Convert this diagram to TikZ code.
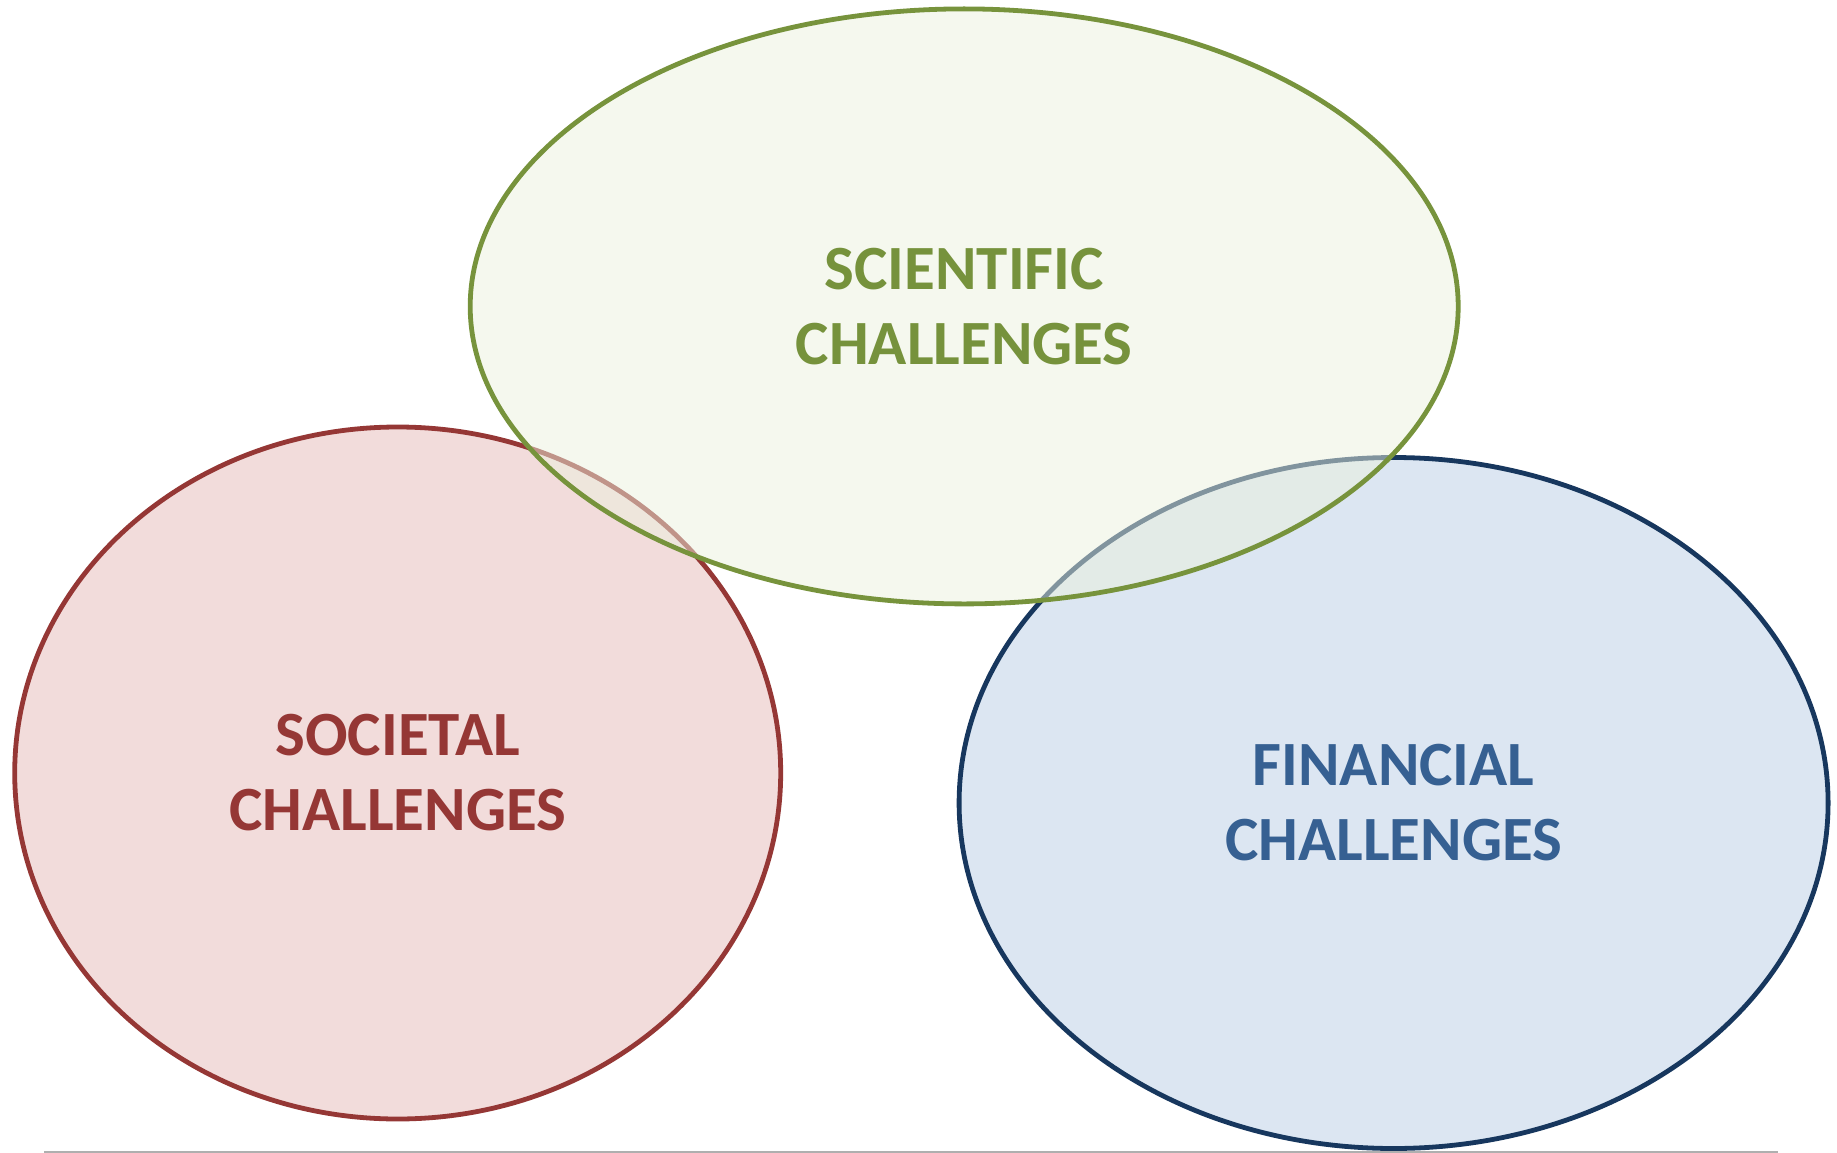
\documentclass[tikz,border=0pt]{standalone}
\usepackage{fontspec}
\setmainfont{Carlito}
\usetikzlibrary{shapes.geometric}
\definecolor{sciFill}{HTML}{EBF1DE}
\definecolor{sciLine}{HTML}{77933C}
\definecolor{sciText}{HTML}{76923C}
\definecolor{socFill}{HTML}{F2DCDB}
\definecolor{socLine}{HTML}{953735}
\definecolor{socText}{HTML}{953735}
\definecolor{finFill}{HTML}{DCE6F2}
\definecolor{finLine}{HTML}{17375E}
\definecolor{finText}{HTML}{366092}
\definecolor{baseGray}{HTML}{AFAFAF}
\begin{document}
\begin{tikzpicture}[x=1pt,y=-1pt,
  blob/.style={ellipse, inner sep=0pt, line width=4.8pt, align=center,
    font=\fontsize{63}{75}\selectfont\bfseries},
]
\useasboundingbox (0,0) rectangle (1837,1153);
\node[blob, draw=socLine, fill=socFill, text=socText,
  minimum width=766pt, minimum height=692pt] (soc) at (397.7,773) {SOCIETAL\\CHALLENGES};
\node[blob, draw=finLine, fill=finFill, text=finText,
  minimum width=869pt, minimum height=691pt] (fin) at (1393.6,803) {FINANCIAL\\CHALLENGES};
\node[blob, draw=sciLine, fill=sciFill, fill opacity=0.5, draw opacity=1, text opacity=1, text=sciText,
  minimum width=988pt, minimum height=595pt] (sci) at (964.2,306.4) {SCIENTIFIC\\CHALLENGES};
\coordinate (bl) at (44,1151.8);
\coordinate (br) at (1778,1151.8);
\draw[baseGray, line width=2pt] (bl) -- (br);
\end{tikzpicture}
\end{document}
